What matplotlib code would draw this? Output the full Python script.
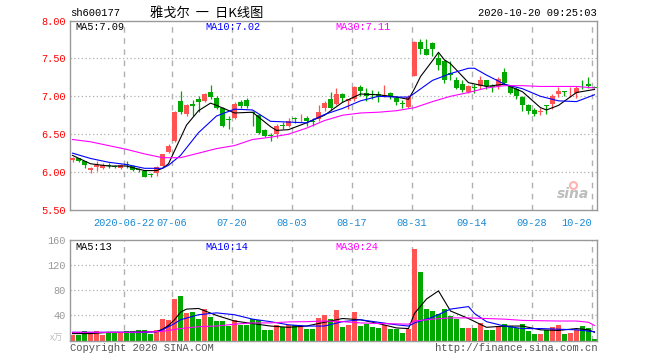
import numpy as np
import matplotlib
matplotlib.use('Agg')
import matplotlib.pyplot as plt

# --- data (price in yuan, volume in 10k lots) ---
dates = ['06-09', '06-10', '06-11', '06-12', '06-15', '06-16', '06-17', '06-18', '06-19', '06-22',
         '06-23', '06-24', '06-29', '06-30', '07-01', '07-02', '07-03', '07-06', '07-07', '07-08',
         '07-09', '07-10', '07-13', '07-14', '07-15', '07-16', '07-17', '07-20', '07-21', '07-22',
         '07-23', '07-24', '07-27', '07-28', '07-29', '07-30', '07-31', '08-03', '08-04', '08-05',
         '08-06', '08-07', '08-10', '08-11', '08-12', '08-13', '08-14', '08-17', '08-18', '08-19',
         '08-20', '08-21', '08-24', '08-25', '08-26', '08-27', '08-28', '08-31', '09-01', '09-02',
         '09-03', '09-04', '09-07', '09-08', '09-09', '09-10', '09-11', '09-14', '09-15', '09-16',
         '09-17', '09-18', '09-21', '09-22', '09-23', '09-24', '09-25', '09-28', '09-29', '09-30',
         '10-09', '10-12', '10-13', '10-14', '10-15', '10-16', '10-19', '10-20']

opens = [6.16, 6.18, 6.14, 6.03, 6.07, 6.06, 6.10, 6.08, 6.05, 6.11,
         6.08, 6.04, 6.01, 5.97, 5.99, 6.08, 6.27, 6.41, 6.94, 6.77,
         6.90, 6.96, 6.94, 7.06, 6.98, 6.84, 6.70, 6.72, 6.93, 6.95,
         6.79, 6.75, 6.55, 6.49, 6.50, 6.62, 6.61, 6.71, 6.71, 6.71,
         6.67, 6.70, 6.85, 6.96, 6.90, 7.03, 6.94, 6.96, 7.12, 7.04,
         7.03, 7.03, 7.01, 7.04, 6.98, 6.91, 6.86, 7.27, 7.71, 7.62,
         7.70, 7.51, 7.46, 7.31, 7.21, 7.16, 7.06, 7.12, 7.13, 7.21,
         7.13, 7.13, 7.32, 7.13, 7.10, 6.99, 6.88, 6.82, 6.79, 6.88,
         6.90, 7.03, 7.07, 7.04, 7.04, 7.14, 7.16, 7.12]
highs = [6.20, 6.19, 6.15, 6.07, 6.14, 6.12, 6.12, 6.09, 6.11, 6.14,
         6.09, 6.06, 6.02, 5.99, 6.08, 6.24, 6.37, 6.80, 7.07, 6.90,
         6.95, 7.01, 7.05, 7.15, 7.00, 6.86, 6.74, 6.92, 6.95, 6.98,
         6.81, 6.77, 6.57, 6.52, 6.63, 6.66, 6.71, 6.73, 6.77, 6.74,
         6.71, 6.88, 6.94, 7.06, 7.11, 7.04, 6.97, 7.14, 7.15, 7.11,
         7.08, 7.07, 7.15, 7.06, 7.01, 6.95, 7.02, 7.73, 7.76, 7.76,
         7.71, 7.57, 7.48, 7.47, 7.26, 7.21, 7.15, 7.16, 7.27, 7.22,
         7.16, 7.25, 7.37, 7.14, 7.12, 7.01, 6.90, 6.85, 6.84, 6.89,
         7.03, 7.12, 7.07, 7.12, 7.14, 7.21, 7.26, 7.13]
lows = [6.13, 6.13, 6.06, 5.99, 6.02, 6.04, 6.06, 6.06, 6.04, 6.05,
        6.02, 6.00, 5.93, 5.94, 5.95, 6.07, 6.25, 6.40, 6.77, 6.74,
        6.74, 6.79, 6.93, 6.97, 6.83, 6.59, 6.57, 6.70, 6.85, 6.85,
        6.61, 6.50, 6.46, 6.41, 6.45, 6.57, 6.59, 6.65, 6.66, 6.61,
        6.61, 6.67, 6.80, 6.82, 6.89, 6.92, 6.83, 6.94, 7.01, 6.94,
        6.96, 6.93, 6.99, 6.96, 6.88, 6.85, 6.84, 7.27, 7.56, 7.54,
        7.53, 7.35, 7.18, 7.21, 7.10, 7.06, 7.04, 7.05, 7.10, 7.10,
        7.06, 7.10, 7.16, 7.03, 6.96, 6.81, 6.77, 6.74, 6.75, 6.77,
        6.83, 6.99, 7.01, 6.99, 6.98, 7.10, 7.11, 7.11]
closes = [6.18, 6.14, 6.10, 6.05, 6.09, 6.10, 6.08, 6.07, 6.10, 6.09,
          6.03, 6.03, 5.94, 5.96, 6.07, 6.24, 6.34, 6.79, 6.79, 6.88,
          6.87, 6.92, 7.03, 6.99, 6.85, 6.61, 6.69, 6.90, 6.87, 6.87,
          6.78, 6.52, 6.48, 6.48, 6.61, 6.61, 6.67, 6.70, 6.72, 6.67,
          6.66, 6.79, 6.91, 6.85, 7.03, 6.98, 6.96, 7.12, 7.07, 7.01,
          7.02, 6.99, 7.02, 6.99, 6.92, 6.90, 6.99, 7.72, 7.62, 7.55,
          7.62, 7.41, 7.21, 7.28, 7.11, 7.08, 7.13, 7.11, 7.21, 7.14,
          7.12, 7.23, 7.18, 7.05, 7.01, 6.88, 6.80, 6.77, 6.80, 6.87,
          7.01, 7.07, 7.06, 7.05, 7.11, 7.13, 7.14, 7.11]
volumes = [9.4, 9.4, 14.7, 13, 14.7, 8.4, 12, 12, 12, 14.7,
           15.8, 16.9, 16.9, 10.5, 16, 34.5, 33.4, 66, 70.7, 44,
           45.7, 34.5, 50.5, 37.7, 31.8, 31.8, 22.8, 32.9, 24.4, 24.4,
           34.5, 32.9, 17.4, 17.4, 25.4, 21.2, 24.4, 25.4, 24.4, 18.5,
           19, 36, 40.3, 35, 47.8, 21.7, 24.4, 45.7, 23.8, 27,
           21.7, 20, 24.4, 19, 19, 12, 19, 146.4, 109.6, 50.5,
           46.7, 42.5, 50.5, 39.8, 35, 20, 20, 20, 28, 16.9,
           16.9, 23.3, 26.5, 22.8, 20, 26.5, 14.7, 10.5, 10.5, 16,
           21, 24.4, 10.5, 12, 17, 23, 20, 3]

# moving-average lines as drawn on the chart (candle index, value)
ma5_idx = [0, 3, 6, 9, 12, 14, 15, 16, 17, 18, 19, 21, 23, 24, 27, 30, 33, 34, 36, 39, 42,
           45, 48, 51, 54, 56, 57, 58, 60, 61, 62, 63, 66, 69, 72, 75, 78, 79, 81, 84, 87]
ma5 = [6.22, 6.11, 6.08, 6.08, 6.02, 6.02, 6.05, 6.11, 6.28, 6.45, 6.62, 6.81, 6.91, 6.88,
       6.78, 6.79, 6.60, 6.55, 6.56, 6.65, 6.75, 6.92, 7.03, 7.02, 6.99, 6.96, 7.10, 7.26,
       7.47, 7.58, 7.48, 7.43, 7.18, 7.13, 7.16, 7.06, 6.85, 6.82, 6.88, 7.05, 7.09]
ma10_idx = [0, 3, 6, 9, 12, 15, 16, 18, 21, 24, 27, 30, 32, 33, 36, 39, 42, 45, 48, 51, 54,
            56, 57, 60, 63, 66, 67, 69, 72, 75, 78, 81, 84, 87]
ma10 = [6.25, 6.18, 6.13, 6.10, 6.05, 6.05, 6.09, 6.22, 6.52, 6.74, 6.83, 6.82, 6.72, 6.67,
        6.66, 6.65, 6.76, 6.84, 6.94, 7.00, 6.99, 6.99, 7.04, 7.21, 7.30, 7.37, 7.37, 7.28,
        7.16, 7.10, 7.00, 6.94, 6.93, 7.02]
ma30_idx = [0, 3, 6, 9, 12, 15, 18, 21, 24, 27, 30, 33, 36, 39, 42, 45, 48, 51, 54, 57, 60,
            63, 66, 69, 72, 75, 78, 81, 84, 87]
ma30 = [6.43, 6.40, 6.35, 6.30, 6.24, 6.19, 6.19, 6.25, 6.31, 6.35, 6.43, 6.46, 6.50, 6.58,
        6.68, 6.75, 6.78, 6.79, 6.81, 6.85, 6.93, 7.00, 7.05, 7.11, 7.14, 7.14, 7.13, 7.13,
        7.13, 7.11]

vma5_idx = [0, 3, 6, 9, 12, 14, 15, 16, 17, 18, 19, 21, 24, 27, 30, 33, 36, 39, 42, 45, 48,
            51, 54, 56, 57, 59, 61, 63, 66, 69, 72, 75, 78, 81, 84, 86, 87]
vma5 = [11, 11, 13, 13, 14, 14, 18, 24, 33, 45, 50, 51, 40, 31, 27, 23, 21, 23, 29, 35, 33,
        27, 20, 19, 43, 66, 79, 47, 35, 21, 23, 23, 17, 16, 19, 17, 13]
vma10_idx = [0, 3, 6, 9, 12, 14, 15, 17, 18, 21, 24, 27, 30, 33, 36, 39, 42, 45, 48, 51, 54,
             56, 57, 60, 63, 66, 67, 69, 72, 75, 78, 81, 84, 87]
vma10 = [13, 13, 13, 13, 13, 14, 17, 27, 33, 41, 44, 41, 34, 30, 25, 23, 23, 30, 33, 29, 25,
         23, 28, 37, 50, 54, 43, 30, 23, 19, 19, 18, 17, 14]
vma30_idx = [0, 3, 6, 9, 12, 15, 18, 21, 24, 27, 30, 33, 36, 39, 42, 45, 48, 51, 54, 56, 57,
             60, 63, 66, 69, 72, 75, 78, 81, 84, 86, 87]
vma30 = [13, 13, 13, 13, 13.5, 14.5, 19, 22, 23, 26, 28, 28, 29.6, 30, 31, 30, 28, 27, 26.5,
         26, 31, 34, 36, 36, 35, 34, 32, 31.5, 31, 31, 29, 24]

label_idx = [9, 17, 27, 37, 47, 57, 67, 77, 87]

RED = '#ff5252'
GREEN = '#00a800'
GRID = '#b0b0b0'
MONO = 'Liberation Mono'
CJK = ['Noto Sans CJK SC', 'DejaVu Sans']

W, H = 660, 360
fig = plt.figure(figsize=(6.6, 3.6), dpi=100)


def box(l, t, r, b):
    return [l / W, 1 - b / H, (r - l) / W, (b - t) / H]


def ftext(x, y, s, **kw):
    fig.text(x / W, 1 - y / H, s, va='center', **kw)


ax = fig.add_axes(box(70, 20.5, 597, 210))
axv = fig.add_axes(box(70, 240, 597, 340.5))

x = np.arange(len(dates))
o = np.array(opens)
c = np.array(closes)
cols = np.where(c >= o, RED, GREEN)
grid_x = [i - 0.4 for i in label_idx]

for a in (ax, axv):
    a.set_xlim(-0.42, 87.42)
    for s in a.spines.values():
        s.set_color('#999999')
        s.set_linewidth(1)
    for gx in grid_x:
        a.axvline(gx, color=GRID, lw=1, ls=(0, (4, 4)), zorder=0)

# price panel
for yv in [6.0, 6.5, 7.0, 7.5]:
    ax.axhline(yv, color=GRID, lw=0.9, ls=(0, (1, 2)), zorder=0)
ax.vlines(x, lows, highs, colors=cols, lw=0.9, zorder=2)
ax.bar(x, np.maximum(np.abs(c - o), 0.008), bottom=np.minimum(o, c), width=0.83,
       color=cols, linewidth=0, zorder=3)
ax.plot(ma5_idx, ma5, color='black', lw=0.8, zorder=4)
ax.plot(ma10_idx, ma10, color='#0000ff', lw=0.8, zorder=4)
ax.plot(ma30_idx, ma30, color='#ff00ff', lw=0.8, zorder=4)
ax.set_ylim(5.5, 8.0)
ax.set_yticks([5.5, 6.0, 6.5, 7.0, 7.5, 8.0])
ax.set_yticklabels(['%.2f' % v for v in [5.5, 6.0, 6.5, 7.0, 7.5, 8.0]],
                   family=MONO, fontsize=7.4, color='#ff0000')
ax.tick_params(axis='y', length=0, pad=3)
ax.set_xticks(grid_x)
xl = ['2020-' + dates[i] if k == 0 else dates[i] for k, i in enumerate(label_idx)]
ax.set_xticklabels(xl, family=MONO, fontsize=7.4, color='#1a8ad4')
ax.tick_params(axis='x', length=0, pad=6)
ax.get_xticklabels()[-1].set_ha('right')

# sina watermark
ax.text(0.985, 0.05, 'sina', transform=ax.transAxes, ha='right', va='bottom',
        fontsize=10, style='italic', weight='bold', color='#bdbdbd', family='DejaVu Sans')
ax.plot([0.955], [0.13], transform=ax.transAxes, marker='o', ms=5, mfc='none',
        mec='#ffb3b3', mew=1.5)

# volume panel
for yv in [40, 80, 120]:
    axv.axhline(yv, color=GRID, lw=0.9, ls=(0, (1, 2)), zorder=0)
axv.bar(x, volumes, width=0.83, color=cols, linewidth=0, zorder=2)
axv.plot(vma5_idx, vma5, color='black', lw=0.8, zorder=4)
axv.plot(vma10_idx, vma10, color='#0000ff', lw=0.8, zorder=4)
axv.plot(vma30_idx, vma30, color='#ff00ff', lw=0.8, zorder=4)
axv.set_ylim(0, 160)
axv.set_yticks([40, 80, 120, 160])
axv.set_yticklabels(['40', '80', '120', '160'], family=MONO, fontsize=7.4, color='#999999')
axv.tick_params(axis='y', length=0, pad=3)
axv.set_xticks([])

# header and footer texts
ftext(70, 13, 'sh600177', family=MONO, fontsize=7.6, color='black')
ftext(150, 13, '雅戈尔  一  日K线图', family=CJK, fontsize=9.5, color='black')
ftext(597, 13, '2020-10-20 09:25:03', family=MONO, fontsize=7.6, color='black', ha='right')

ftext(75, 27, 'MA5:%.2f' % ma5[-1], family=MONO, fontsize=7.4, color='black')
ftext(205, 27, 'MA10:%.2f' % ma10[-1], family=MONO, fontsize=7.4, color='#0000ff')
ftext(335, 27, 'MA30:%.2f' % ma30[-1], family=MONO, fontsize=7.4, color='#ff00ff')

ftext(75, 247, 'MA5:%d' % vma5[-1], family=MONO, fontsize=7.4, color='black')
ftext(205, 247, 'MA10:%d' % vma10[-1], family=MONO, fontsize=7.4, color='#0000ff')
ftext(335, 247, 'MA30:%d' % vma30[-1], family=MONO, fontsize=7.4, color='#ff00ff')

ftext(63, 338, 'x万', family=CJK, fontsize=6.5, color='#c0c0c0', ha='right')
ftext(70, 348, 'Copyright 2020 SINA.COM', family=MONO, fontsize=7.6, color='#555555')
ftext(597, 348, 'http://finance.sina.com.cn', family=MONO, fontsize=7.6, color='#555555',
      ha='right')

fig.savefig('out.png', dpi=100, facecolor='white')
